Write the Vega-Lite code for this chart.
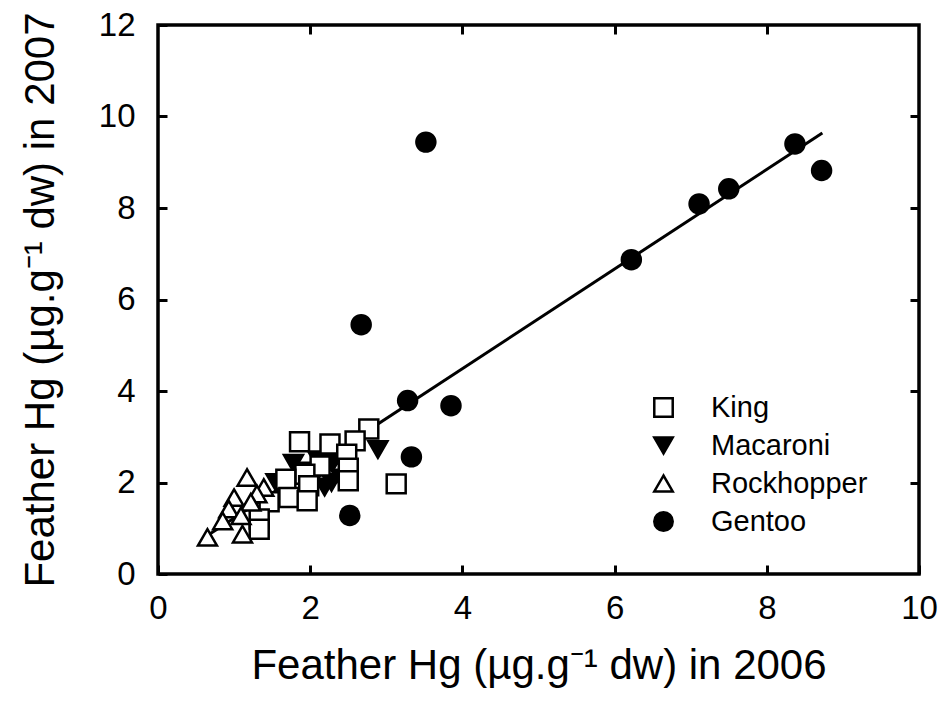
{
  "$schema": "https://vega.github.io/schema/vega-lite/v6.json",
  "autosize": "none",
  "width": 761,
  "height": 549,
  "padding": {"left": 158, "top": 25, "right": 28, "bottom": 148},
  "background": "white",
  "config": {
    "view": {"stroke": "black", "strokeWidth": 3.5},
    "font": "Liberation Sans",
    "legend": {"symbolStrokeColor": "black", "symbolSize": 340, "symbolStrokeWidth": 2.5, "symbolOpacity": 1},
    "axis": {
      "grid": false,
      "domain": false,
      "labelFlush": false,
      "tickColor": "black",
      "tickWidth": 3,
      "tickSize": 9,
      "offset": -9,
      "labelColor": "black",
      "titleColor": "black",
      "labelFont": "Liberation Sans",
      "titleFont": "Liberation Sans",
      "labelFontSize": 33,
      "titleFontSize": 42,
      "titleFontWeight": "normal"
    }
  },
  "datasets": {
    "pts": [
      {"species": "Macaroni", "x2006": 2.89, "x2007": 2.72},
      {"species": "Macaroni", "x2006": 1.78, "x2007": 2.42},
      {"species": "Macaroni", "x2006": 2.1, "x2007": 2.5},
      {"species": "Macaroni", "x2006": 2.2, "x2007": 2.3},
      {"species": "Macaroni", "x2006": 2.19, "x2007": 1.9},
      {"species": "Macaroni", "x2006": 2.28, "x2007": 2.0},
      {"species": "Macaroni", "x2006": 2.4, "x2007": 2.1},
      {"species": "Macaroni", "x2006": 1.95, "x2007": 2.25},
      {"species": "Macaroni", "x2006": 2.05, "x2007": 2.1},
      {"species": "Macaroni", "x2006": 1.55, "x2007": 2.0},
      {"species": "Macaroni", "x2006": 2.3, "x2007": 2.45},
      {"species": "King", "x2006": 2.77, "x2007": 3.17},
      {"species": "King", "x2006": 1.86, "x2007": 2.89},
      {"species": "King", "x2006": 2.26, "x2007": 2.84},
      {"species": "King", "x2006": 2.59, "x2007": 2.91},
      {"species": "King", "x2006": 2.48, "x2007": 2.62},
      {"species": "King", "x2006": 2.13, "x2007": 2.36},
      {"species": "King", "x2006": 2.5, "x2007": 2.31},
      {"species": "King", "x2006": 2.5, "x2007": 2.04},
      {"species": "King", "x2006": 3.13, "x2007": 1.97},
      {"species": "King", "x2006": 1.93, "x2007": 2.18},
      {"species": "King", "x2006": 1.68, "x2007": 2.07},
      {"species": "King", "x2006": 1.98, "x2007": 1.93},
      {"species": "King", "x2006": 1.72, "x2007": 1.67},
      {"species": "King", "x2006": 1.96, "x2007": 1.6},
      {"species": "King", "x2006": 1.46, "x2007": 1.58},
      {"species": "King", "x2006": 1.33, "x2007": 1.2},
      {"species": "King", "x2006": 1.33, "x2007": 0.98},
      {"species": "Rockhopper", "x2006": 1.17, "x2007": 2.11},
      {"species": "Rockhopper", "x2006": 1.39, "x2007": 1.89},
      {"species": "Rockhopper", "x2006": 1.3, "x2007": 1.75},
      {"species": "Rockhopper", "x2006": 1.0, "x2007": 1.67},
      {"species": "Rockhopper", "x2006": 1.22, "x2007": 1.57},
      {"species": "Rockhopper", "x2006": 0.93, "x2007": 1.42},
      {"species": "Rockhopper", "x2006": 1.09, "x2007": 1.27},
      {"species": "Rockhopper", "x2006": 0.85, "x2007": 1.16},
      {"species": "Rockhopper", "x2006": 1.11, "x2007": 0.87},
      {"species": "Rockhopper", "x2006": 0.65, "x2007": 0.8},
      {"species": "Gentoo", "x2006": 3.52, "x2007": 9.44},
      {"species": "Gentoo", "x2006": 2.67, "x2007": 5.45},
      {"species": "Gentoo", "x2006": 3.28, "x2007": 3.79},
      {"species": "Gentoo", "x2006": 3.85, "x2007": 3.68},
      {"species": "Gentoo", "x2006": 3.33, "x2007": 2.56},
      {"species": "Gentoo", "x2006": 2.52, "x2007": 1.28},
      {"species": "Gentoo", "x2006": 6.22, "x2007": 6.87},
      {"species": "Gentoo", "x2006": 7.11, "x2007": 8.09},
      {"species": "Gentoo", "x2006": 7.5, "x2007": 8.42},
      {"species": "Gentoo", "x2006": 8.37, "x2007": 9.4},
      {"species": "Gentoo", "x2006": 8.72, "x2007": 8.82}
    ],
    "fit": [
      {"x2006": 0.65, "x2007": 0.84},
      {"x2006": 8.73, "x2007": 9.64}
    ]
  },
  "layer": [
    {
      "data": {"name": "fit"},
      "mark": {"type": "line", "color": "black", "strokeWidth": 3},
      "encoding": {
        "x": {"field": "x2006", "type": "quantitative", "scale": {"domain": [0, 10], "nice": false},
              "axis": {"orient": "top", "labels": false, "title": null, "values": [2,4,6,8]}},
        "y": {"field": "x2007", "type": "quantitative", "scale": {"domain": [0, 12], "nice": false},
              "axis": {"orient": "right", "labels": false, "title": null, "values": [2,4,6,8,10]}}
      }
    },
    {
      "data": {"name": "pts"},
      "mark": {"type": "point", "filled": false, "strokeWidth": 2.5, "size": 360, "opacity": 1},
      "encoding": {
        "x": {"field": "x2006", "type": "quantitative",
              "axis": {"orient": "bottom", "title": "Feather Hg (µg.g⁻¹ dw) in 2006", "values": [0,2,4,6,8,10], "labelPadding": 18, "titlePadding": 20}},
        "y": {"field": "x2007", "type": "quantitative",
              "axis": {"orient": "left", "title": "Feather Hg (µg.g⁻¹ dw) in 2007", "values": [0,2,4,6,8,10,12], "labelPadding": 23, "titlePadding": 36}},
        "stroke": {"field": "species", "type": "nominal",
                   "scale": {"domain": ["King", "Macaroni", "Rockhopper", "Gentoo"], "range": ["black", "black", "black", "black"]},
                   "legend": {"title": null, "orient": "none", "legendX": 491, "legendY": 368, "padding": 0,
                              "labelFontSize": 29, "labelFont": "Liberation Sans", "labelColor": "black",
                              "symbolSize": 340, "symbolStrokeWidth": 2.5,
                              "rowPadding": 8, "labelOffset": 33,
                              "encode": {"symbols": {"update": {"size": {"value": 340}, "strokeWidth": {"value": 2.5}}}}}},
        "shape": {"field": "species", "type": "nominal",
                  "scale": {"domain": ["King", "Macaroni", "Rockhopper", "Gentoo"], "range": ["square", "triangle-down", "triangle-up", "circle"]},
                  "legend": {"title": null, "orient": "none", "legendX": 491, "legendY": 368, "padding": 0,
                             "labelFontSize": 29, "labelFont": "Liberation Sans", "labelColor": "black",
                             "symbolSize": 340, "symbolStrokeWidth": 2.5,
                             "rowPadding": 8, "labelOffset": 33,
                             "encode": {"symbols": {"update": {"size": {"value": 340}, "strokeWidth": {"value": 2.5}}}}}},
        "fill": {"field": "species", "type": "nominal",
                 "scale": {"domain": ["King", "Macaroni", "Rockhopper", "Gentoo"], "range": ["white", "black", "white", "black"]},
                 "legend": {"title": null, "orient": "none", "legendX": 491, "legendY": 368, "padding": 0,
                            "labelFontSize": 29, "labelFont": "Liberation Sans", "labelColor": "black",
                            "symbolSize": 340, "symbolStrokeWidth": 2.5,
                            "rowPadding": 8, "labelOffset": 33,
                            "encode": {"symbols": {"update": {"size": {"value": 340}, "strokeWidth": {"value": 2.5}}}}}}
      }
    }
  ]
}
